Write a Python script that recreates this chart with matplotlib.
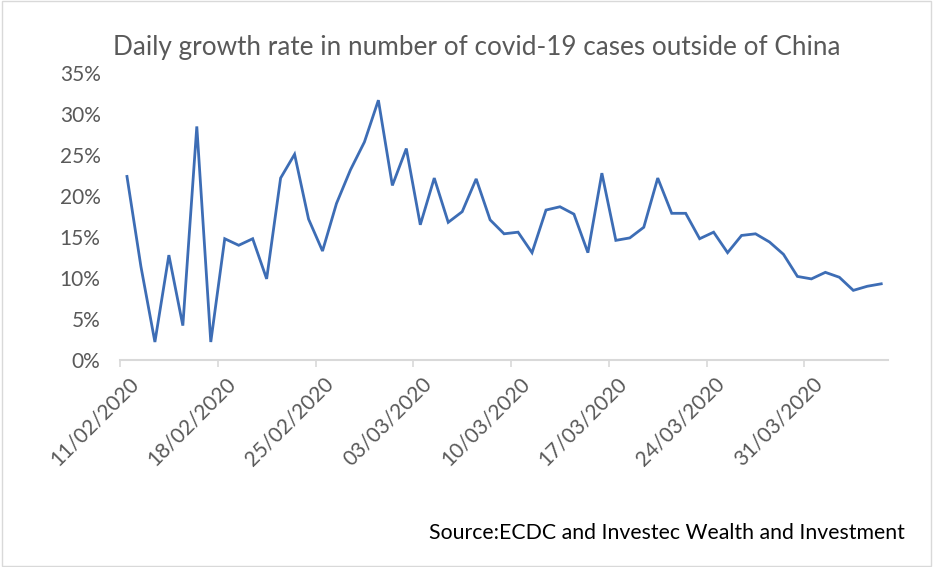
import matplotlib
matplotlib.use("Agg")
import matplotlib.pyplot as plt
import matplotlib.dates as mdates
import matplotlib.ticker as mticker
import matplotlib.transforms as mtransforms
import pandas as pd
import numpy as np

title = "Daily growth rate in number of covid-19 cases outside of China"
source = "Source:ECDC and Investec Wealth and Investment"
start_date = "2020-02-11"
growth_pct = [22.4, 11.4, 2.2, 12.8, 4.2, 28.5, 2.2, 14.8, 14.0, 14.8,
              9.9, 22.2, 25.1, 17.2, 13.3, 19.1, 23.2, 26.6, 31.7, 21.3,
              25.8, 16.5, 22.2, 16.8, 18.1, 22.1, 17.1, 15.4, 15.6, 13.1,
              18.3, 18.7, 17.8, 13.1, 22.8, 14.6, 14.9, 16.2, 22.2, 17.9,
              17.9, 14.8, 15.6, 13.1, 15.2, 15.4, 14.4, 12.9, 10.2, 9.9,
              10.7, 10.1, 8.5, 9.0, 9.3]
tick_dates = ["2020-02-11", "2020-02-18", "2020-02-25", "2020-03-03",
              "2020-03-10", "2020-03-17", "2020-03-24", "2020-03-31"]

plt.rcParams['font.family'] = ['Lato', 'DejaVu Sans']

dates = pd.date_range(start_date, periods=len(growth_pct), freq="D")
xnum = mdates.date2num(dates) + 0.5

fig = plt.figure(figsize=(9.33, 5.67), dpi=100)
ax = fig.add_axes([0.1286, 0.365, 0.8234, 0.506])
ax.plot(xnum, growth_pct, color="#3d6db5", lw=2.0, solid_joinstyle="miter")

x0 = mdates.date2num(dates[0])
ax.set_xlim(x0, x0 + len(growth_pct))
ax.set_ylim(0, 35)
ax.yaxis.set_major_locator(mticker.MultipleLocator(5))
ax.yaxis.set_major_formatter(mticker.FuncFormatter(lambda v, p: f"{v:.0f}%"))

tnum = mdates.date2num(pd.to_datetime(tick_dates))
ax.set_xticks(tnum)
ax.set_xticklabels([pd.Timestamp(d).strftime("%d/%m/%Y") for d in tick_dates],
                   rotation=45, ha="right", rotation_mode="anchor")

for s in ["top", "right", "left"]:
    ax.spines[s].set_visible(False)
ax.spines["bottom"].set_color("#d9d9d9")
ax.spines["bottom"].set_linewidth(1.5)
ax.tick_params(axis="y", length=0, labelsize=15, colors="#595959", pad=14)
ax.tick_params(axis="x", length=5, width=1.2, color="#d9d9d9", labelsize=15,
               labelcolor="#595959", pad=3)

offset = mtransforms.ScaledTranslation(8 / 100, -2 / 100, fig.dpi_scale_trans)
for lbl in ax.get_xticklabels():
    lbl.set_transform(lbl.get_transform() + offset)

fig.text(0.511, 0.917, title, ha="center", va="center", fontsize=18.8, color="#595959")
fig.text(0.97, 0.06, source, ha="right", va="center", fontsize=15.3, color="black")

border = plt.Rectangle((0.002, 0.002), 0.996, 0.996, transform=fig.transFigure,
                       fill=False, edgecolor="#d9d9d9", lw=1)
fig.patches.append(border)

fig.savefig("out.png", dpi=100)
